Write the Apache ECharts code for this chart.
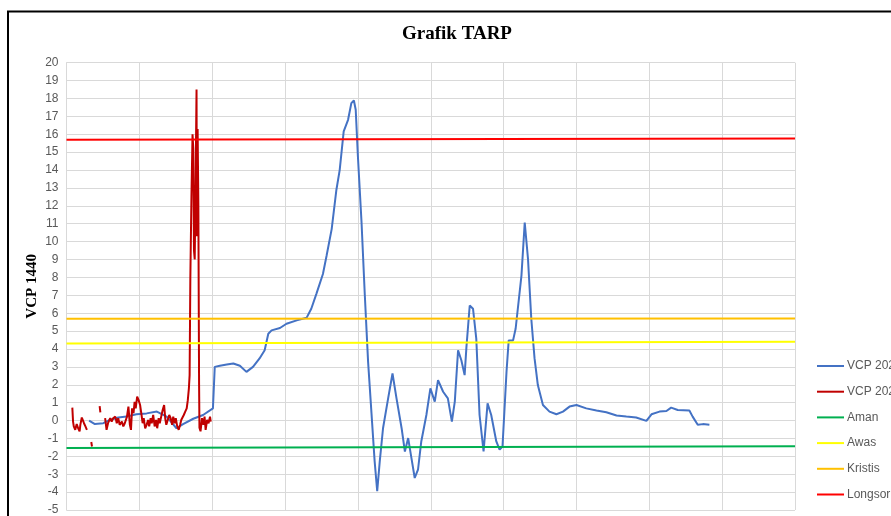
<!DOCTYPE html>
<html>
<head>
<meta charset="utf-8">
<script src="https://cdn.jsdelivr.net/npm/echarts@6/dist/echarts.min.js"></script>
<style>
  html, body { margin: 0; padding: 0; background: #fff; }
  #chart { width: 891px; height: 516px; }
</style>
</head>
<body>
<div id="chart"></div>
<script>
// VCP 2024 readings [x, value]
var vcp2024 = [
  [3.1, 0.0], [3.9, -0.2], [5.05, -0.15], [5.95, 0.03], [7.1, 0.17], [8.25, 0.22],
  [9.6, 0.35], [11.0, 0.4], [12.4, 0.5], [13.75, 0.22], [15.1, -0.43], [16.0, -0.2],
  [17.4, 0.1], [18.75, 0.31], [20.1, 0.68], [20.35, 3.0], [21.05, 3.06], [22.0, 3.13],
  [22.9, 3.19], [23.8, 3.06], [24.7, 2.72], [25.6, 3.0], [26.5, 3.47], [27.2, 3.93],
  [27.7, 4.85], [28.15, 5.04], [29.3, 5.17], [30.2, 5.41], [31.6, 5.6], [32.95, 5.74],
  [33.6, 6.25], [34.3, 7.08], [35.2, 8.19], [35.7, 9.21], [36.4, 10.7], [37.05, 12.9],
  [37.5, 14.0], [38.05, 16.16], [38.65, 16.81], [39.1, 17.74], [39.45, 17.89], [39.7, 17.37],
  [40.0, 14.77], [40.5, 11.07], [40.95, 7.0], [41.4, 3.28], [41.85, 0.5], [42.3, -2.28],
  [42.65, -3.95], [43.0, -2.28], [43.45, -0.43], [44.15, 1.24], [44.75, 2.63], [45.3, 1.24],
  [46.0, -0.43], [46.45, -1.73], [46.9, -0.98], [47.35, -2.1], [47.8, -3.21], [48.25, -2.75],
  [48.7, -1.17], [49.4, 0.31], [49.95, 1.8], [50.55, 1.06], [51.0, 2.26], [51.7, 1.61],
  [52.35, 1.24], [52.9, -0.06], [53.3, 1.06], [53.75, 3.93], [54.2, 3.37], [54.65, 2.54],
  [54.9, 4.12], [55.35, 6.43], [55.8, 6.25], [56.25, 4.58], [56.7, 0.31], [57.25, -1.73],
  [57.8, 0.96], [58.3, 0.31], [59.0, -1.17], [59.45, -1.63], [59.85, -1.45], [60.4, 2.73],
  [60.7, 4.48], [61.3, 4.48], [61.65, 5.13], [62.45, 8.1], [62.9, 11.07], [63.35, 9.03],
  [63.8, 5.69], [64.25, 3.47], [64.7, 1.98], [65.4, 0.87], [66.3, 0.5], [67.25, 0.35],
  [68.15, 0.5], [69.05, 0.78], [70.0, 0.87], [71.35, 0.68], [72.75, 0.56], [74.1, 0.46],
  [75.5, 0.28], [76.85, 0.22], [78.2, 0.17], [79.6, -0.02], [80.3, 0.35], [81.4, 0.5],
  [82.35, 0.53], [83.0, 0.72], [83.9, 0.59], [85.5, 0.56], [85.95, 0.22], [86.65, -0.24],
  [87.35, -0.2], [88.25, -0.24]
];

// VCP 2023 readings [x, value], '-' = no reading
var vcp2023 = [
  [0.8, 0.72], [0.9, -0.06], [1.0, -0.33], [1.2, -0.52], [1.4, -0.2], [1.6, -0.43],
  [1.8, -0.61], [1.9, -0.24], [2.1, 0.17], [2.3, 0.22], [2.4, -0.15], [2.6, -0.33],
  [2.8, -0.52], [3.0, '-'],
  [3.4, -1.2], [3.5, -1.45], [3.9, '-'],
  [4.55, 0.8], [4.65, 0.45], [5.0, '-'],
  [5.3, 0.13], [5.5, -0.52], [5.7, -0.15], [6.0, 0.13], [6.2, -0.06], [6.4, 0.13],
  [6.7, 0.22], [6.9, -0.15], [7.1, 0.13], [7.3, -0.24], [7.6, -0.06], [7.8, -0.33],
  [8.0, -0.15], [8.3, 0.22], [8.5, 0.78], [8.7, -0.24], [8.85, -0.52], [9.0, 0.68],
  [9.2, 0.41], [9.35, 1.05], [9.5, 0.68], [9.7, 1.33], [9.9, 1.14], [10.1, 0.87],
  [10.3, 0.31], [10.45, -0.15], [10.6, 0.13], [10.8, -0.43], [11.0, -0.24], [11.2, 0.03],
  [11.35, -0.33], [11.55, 0.13], [11.7, -0.15], [11.9, 0.31], [12.1, -0.33], [12.3, 0.03],
  [12.45, -0.43], [12.65, 0.13], [12.8, -0.15], [13.0, 0.22], [13.2, 0.59], [13.4, 0.87],
  [13.55, 0.13], [13.7, -0.24], [13.9, 0.03], [14.1, 0.31], [14.3, 0.13], [14.5, -0.24],
  [14.65, 0.22], [14.85, -0.15], [15.0, 0.13], [15.2, -0.33], [15.4, -0.52], [15.6, -0.24],
  [15.75, 0.03], [15.9, -0.06], [16.1, 0.31], [16.3, 0.5], [16.5, 0.68], [16.65, 1.14],
  [16.8, 1.8], [16.9, 2.54], [17.0, 8.0], [17.15, 12.5], [17.3, 16.0], [17.4, 15.2],
  [17.5, 9.5], [17.6, 9.0], [17.75, 14.5], [17.85, 18.5], [17.9, 10.3], [18.0, 16.3],
  [18.1, 12.0], [18.2, 2.0], [18.25, -0.4], [18.4, -0.6], [18.6, 0.13], [18.8, -0.24],
  [18.95, 0.22], [19.1, -0.52], [19.3, 0.03], [19.5, -0.15], [19.7, 0.22], [19.8, -0.06]
];

// threshold lines [x, value]
var aman = [[0, -1.54], [100, -1.43]];
var awas = [[0, 4.3], [100, 4.41]];
var kristis = [[0, 5.69], [100, 5.7]];
var longsor = [[0, 15.7], [100, 15.76]];

var yTicks = { min: -5, max: 20, step: 1 };

var fontSans = '"Liberation Sans", Arial, sans-serif';
var fontSerif = '"Liberation Serif", "Times New Roman", serif';

function lineSeries(name, data, color, width) {
  return {
    name: name,
    type: 'line',
    data: data,
    symbol: 'none',
    connectNulls: false,
    lineStyle: { color: color, width: width },
    itemStyle: { color: color }
  };
}

var chart = echarts.init(document.getElementById('chart'));
chart.setOption({
  animation: false,
  backgroundColor: '#fff',
  title: {
    text: 'Grafik TARP',
    left: 452,
    top: 20,
    textAlign: 'center',
    textStyle: { fontFamily: fontSerif, fontWeight: 'bold', fontSize: 19, color: '#000' }
  },
  graphic: [{
    type: 'rect',
    shape: { x: 8, y: 11.5, width: 1000, height: 600 },
    style: { fill: 'none', stroke: '#000', lineWidth: 2 },
    silent: true
  }],
  legend: {
    orient: 'vertical',
    left: 812,
    top: 355,
    icon: 'rect',
    itemWidth: 27,
    itemHeight: 2,
    itemGap: 13.7,
    textStyle: { fontFamily: fontSans, fontSize: 12, color: '#595959', padding: [0, 0, 0, -2] },
    data: ['VCP 2024', 'VCP 2023', 'Aman', 'Awas', 'Kristis', 'Longsor']
  },
  grid: { left: 66.5, right: 96, top: 62.7, bottom: 3.8 },
  xAxis: {
    type: 'value',
    min: 0,
    max: 100,
    interval: 10,
    axisLine: { show: false },
    axisTick: { show: false },
    axisLabel: { show: false },
    splitLine: { show: true, lineStyle: { color: '#D9D9D9', width: 1 } }
  },
  yAxis: {
    type: 'value',
    min: yTicks.min,
    max: yTicks.max,
    interval: yTicks.step,
    name: 'VCP 1440',
    nameLocation: 'middle',
    nameGap: 27,
    nameMoveOverlap: false,
    nameTextStyle: { fontFamily: fontSerif, fontWeight: 'bold', fontSize: 15, color: '#000' },
    axisLine: { show: true, lineStyle: { color: '#D9D9D9' } },
    axisTick: { show: false },
    axisLabel: { fontFamily: fontSans, fontSize: 12, color: '#595959', margin: 8 },
    splitLine: { show: true, lineStyle: { color: '#D9D9D9', width: 1 } }
  },
  series: [
    lineSeries('VCP 2024', vcp2024, '#4472C4', 2),
    lineSeries('VCP 2023', vcp2023, '#C00000', 2),
    lineSeries('Aman', aman, '#00B050', 2),
    lineSeries('Awas', awas, '#FFFF00', 2),
    lineSeries('Kristis', kristis, '#FFC000', 2),
    lineSeries('Longsor', longsor, '#FF0000', 2)
  ]
});
</script>
</body>
</html>
